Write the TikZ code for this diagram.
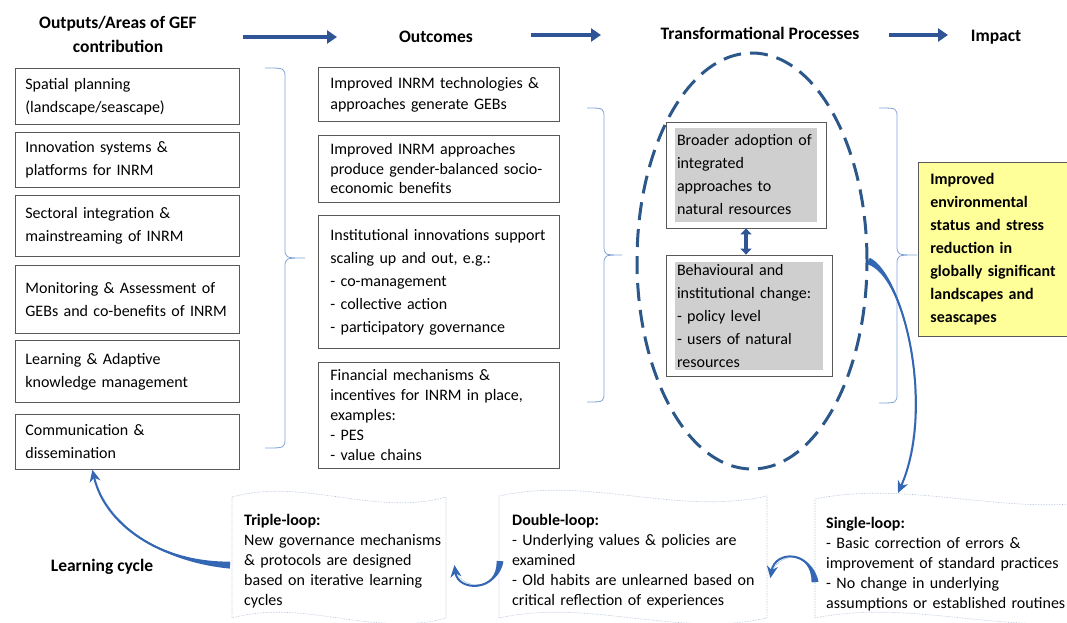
\documentclass[tikz,border=0pt]{standalone}
\usepackage{fontspec}
\setmainfont{Carlito}
\usetikzlibrary{arrows.meta,shapes.geometric,calc}

\definecolor{gefblue}{HTML}{2F5597}
\definecolor{loopblue}{HTML}{3366B3}
\definecolor{ringblue}{HTML}{2C5889}
\definecolor{bracketblue}{HTML}{7FA2D6}
\definecolor{boxgray}{HTML}{595959}
\definecolor{tpgray}{HTML}{CFCFCF}
\definecolor{impactyellow}{HTML}{FFFF99}
\definecolor{tapeblue}{HTML}{A9BCD3}

\newcommand{\fs}[2]{\fontsize{#1}{#2}\selectfont}
% brace: x0, xmid, xtip, ytop, ytip, ybot
\newcommand{\gefbrace}[6]{%
  \draw[gefbracket] (#1,#4) .. controls (#2,#4) .. (#2,{#4+10})
    -- (#2,{#5-10}) .. controls (#2,#5) .. (#3,#5)
    .. controls (#2,#5) .. (#2,{#5+10})
    -- (#2,{#6-10}) .. controls (#2,#6) .. (#1,#6);}
% punched tape: left, top, right, bottom
\newcommand{\tapeshape}[4]{%
  \draw[tapeline] (#1,#2) .. controls ({#1+(#3-#1)/3},{#2-20}) and ({#1+2*(#3-#1)/3},{#2+20}) .. (#3,#2)
    -- (#3,#4) .. controls ({#1+2*(#3-#1)/3},{#4+20}) and ({#1+(#3-#1)/3},{#4-20}) .. (#1,#4) -- cycle;}
% tapered curved arrow: start, control, control, end
\newcommand{\looparrow}[4]{%
  \fill[loopblue] ($(#1)!3.5pt!90:(#2)$) .. controls (#2) and (#3) .. (#4)
    .. controls (#3) and (#2) .. ($(#1)!3.5pt!-90:(#2)$) -- cycle;
  \draw[loopline] (#1) .. controls (#2) and (#3) .. (#4);}

\tikzset{
  colhead/.style={font=\fs{17.5}{24}\bfseries, align=center, inner sep=0pt},
  outbox/.style={draw=boxgray, line width=0.8pt, anchor=north west, align=left,
    inner xsep=10pt, inner ysep=0pt, text width=204pt, minimum width=224pt, font=\fs{16}{23}},
  ocmbox/.style={draw=boxgray, line width=0.8pt, anchor=north west, align=left,
    inner xsep=12pt, inner ysep=0pt, text width=217pt, minimum width=241pt, font=\fs{16}{23}},
  tpring/.style={ellipse, draw=ringblue, line width=3pt, dash pattern=on 18pt off 9pt, inner sep=0pt},
  tpframe/.style={draw=boxgray, line width=0.8pt, inner sep=0pt},
  tpshade/.style={fill=tpgray, inner xsep=2pt, inner ysep=0pt, align=left, font=\fs{16}{23}},
  impactbox/.style={draw=boxgray, line width=0.8pt, fill=impactyellow, anchor=north west, align=left,
    inner xsep=12pt, inner ysep=0pt, text width=150pt, font=\fs{16}{23}\bfseries},
  looptext/.style={anchor=north west, inner sep=0pt, align=left, font=\fs{16}{20}},
  gefbracket/.style={draw=bracketblue, line width=0.8pt},
  tapeline/.style={draw=tapeblue, line width=0.6pt, densely dotted},
  colarrow/.style={draw=gefblue, line width=4.5pt, -{Triangle[length=10pt,width=13pt]}},
  linkarrow/.style={draw=gefblue, line width=4pt, {Triangle[length=6pt,width=11pt]}-{Triangle[length=6pt,width=11pt]}},
  loopline/.style={draw=loopblue, line width=2pt, -{Stealth[length=12pt,width=11pt]}},
}

\begin{document}
\begin{tikzpicture}[x=1pt,y=-1pt]
  \useasboundingbox (0,0) rectangle (1067,623);

  % column headers
  \node[colhead] (hgef) at (118,34) {Outputs/Areas of GEF\\contribution};
  \node[colhead] (hocm) at (436,37) {Outcomes};
  \node[colhead] (htp) at (760,33) {Transformational Processes};
  \node[colhead] (himp) at (996,37) {Impact};
  \coordinate (a1s) at (243,37); \coordinate (a1e) at (337,37);
  \coordinate (a2s) at (531,35); \coordinate (a2e) at (601,35);
  \coordinate (a3s) at (889,35); \coordinate (a3e) at (948,35);
  \draw[colarrow] (a1s) -- (a1e);
  \draw[colarrow] (a2s) -- (a2e);
  \draw[colarrow] (a3s) -- (a3e);

  % outputs
  \node[outbox, minimum height=56pt] (o1) at (15,68) {Spatial planning\\(landscape/seascape)};
  \node[outbox, minimum height=55pt] (o2) at (15,132) {Innovation systems \&\\platforms for INRM};
  \node[outbox, minimum height=61pt] (o3) at (15,195) {Sectoral integration \&\\mainstreaming of INRM};
  \node[outbox, minimum height=68pt] (o4) at (15,265) {Monitoring \& Assessment of\\GEBs and co-benefits of INRM};
  \node[outbox, minimum height=62pt] (o5) at (15,340) {Learning \& Adaptive\\knowledge management};
  \node[outbox, minimum height=55pt] (o6) at (15,414) {Communication \&\\dissemination};

  % outcomes
  \node[ocmbox, minimum height=54pt, font=\fs{16}{21}] (c1) at (318,67)
    {Improved INRM technologies \&\\approaches generate GEBs};
  \node[ocmbox, minimum height=67pt, font=\fs{16}{19.5}] (c2) at (318,135)
    {Improved INRM approaches\\produce gender-balanced socio-\\economic benefits};
  \node[ocmbox, minimum height=133pt] (c3) at (318,215)
    {Institutional innovations support\\scaling up and out, e.g.:\\- co-management\\- collective action\\- participatory governance};
  \node[ocmbox, minimum height=106pt, font=\fs{16}{20}] (c4) at (318,362)
    {Financial mechanisms \&\\incentives for INRM in place,\\examples:\\- PES\\- value chains};

  % transformational processes
  \node[tpring, minimum width=230pt, minimum height=416pt] (ring) at (752,261) {};
  \node[tpframe, minimum width=160pt, minimum height=106pt] (broF) at (746,175) {};
  \node[tpshade, text width=138pt, minimum height=94pt] (bro) at (746,175)
    {Broader adoption of\\integrated\\approaches to\\natural resources};
  \node[tpframe, minimum width=166pt, minimum height=121pt] (behF) at (749,315.5) {};
  \node[tpshade, text width=144pt, minimum height=108pt] (beh) at (749,316)
    {Behavioural and\\institutional change:\\- policy level\\- users of natural\\resources};
  \draw[linkarrow] (broF.south) -- (broF.south |- behF.north);

  % impact
  \node[impactbox, minimum height=174pt] (imp) at (918,162)
    {Improved\\environmental\\status and stress\\reduction in\\globally significant\\landscapes and\\seascapes};

  % braces
  \gefbrace{265}{285}{305}{68}{258}{448}
  \gefbrace{587}{604}{622}{108}{255}{402}
  \gefbrace{879}{897}{917}{108}{255}{403}

  % learning loops
  \tapeshape{232}{497}{446}{618}
  \tapeshape{499}{496}{767}{618}
  \tapeshape{815}{499}{1110}{618}
  \node[colhead] (lcyc) at (102,567) {Learning cycle};
  \node[looptext, text width=210pt] (tl) at (244,514)
    {\textbf{Triple-loop:}\\New governance mechanisms\\\& protocols are designed\\based on iterative learning\\cycles};
  \node[looptext, text width=250pt] (dl) at (512,514)
    {\textbf{Double-loop:}\\- Underlying values \& policies are\\examined\\- Old habits are unlearned based on\\critical reflection of experiences};
  \node[looptext, text width=260pt] (sl) at (826,517)
    {\textbf{Single-loop:}\\- Basic correction of errors \&\\improvement of standard practices\\- No change in underlying\\assumptions or established routines};

  \looparrow{ring.east}{905,275}{935,410}{[xshift=72pt,yshift=24pt]sl.north west}
  \looparrow{[xshift=-11pt,yshift=-18pt]sl.west}{812,550}{775,550}{[xshift=8pt,yshift=-17pt]dl.east}
  \looparrow{[xshift=-12pt]dl.west}{498,592}{458,592}{[yshift=-4pt]tl.east}
  \looparrow{[xshift=-14pt,yshift=-4pt]tl.west}{160,562}{105,525}{[xshift=-35pt]o6.south}
\end{tikzpicture}
\end{document}
